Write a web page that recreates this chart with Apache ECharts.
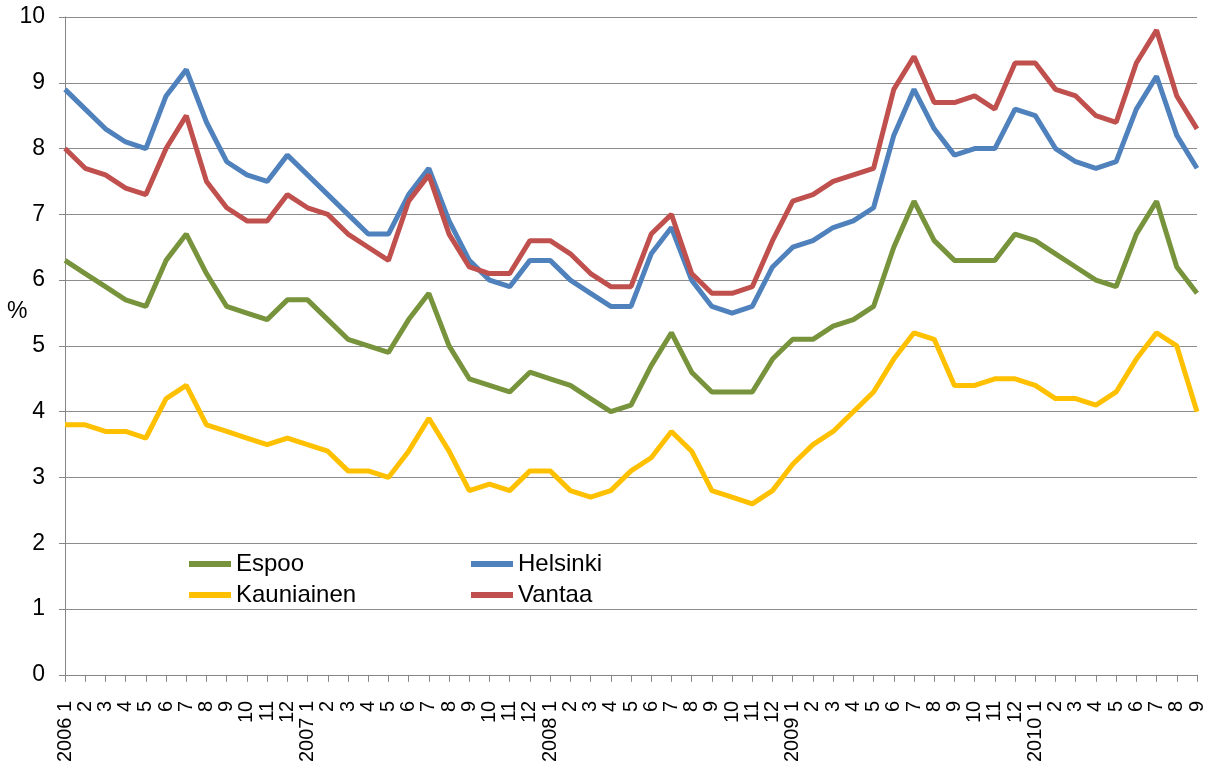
<!DOCTYPE html>
<html>
<head>
<meta charset="utf-8">
<title>Espoo Helsinki Kauniainen Vantaa</title>
<script src="https://cdn.jsdelivr.net/npm/echarts@6/dist/echarts.min.js"></script>
<style>
html,body{margin:0;padding:0;background:#fff;}
#lineContainer{width:1209px;height:765px;}
</style>
</head>
<body>
<div id="lineContainer"></div>
<script>
var monthLabels=[
	"2006 1","2","3","4","5","6","7","8","9","10","11","12",
	"2007 1","2","3","4","5","6","7","8","9","10","11","12",
	"2008 1","2","3","4","5","6","7","8","9","10","11","12",
	"2009 1","2","3","4","5","6","7","8","9","10","11","12",
	"2010 1","2","3","4","5","6","7","8","9"
];
var espooData=[
	6.3,6.1,5.9,5.7,5.6,6.3,6.7,6.1,5.6,5.5,5.4,5.7,
	5.7,5.4,5.1,5.0,4.9,5.4,5.8,5.0,4.5,4.4,4.3,4.6,
	4.5,4.4,4.2,4.0,4.1,4.7,5.2,4.6,4.3,4.3,4.3,4.8,
	5.1,5.1,5.3,5.4,5.6,6.5,7.2,6.6,6.3,6.3,6.3,6.7,
	6.6,6.4,6.2,6.0,5.9,6.7,7.2,6.2,5.8
];
var helsinkiData=[
	8.9,8.6,8.3,8.1,8.0,8.8,9.2,8.4,7.8,7.6,7.5,7.9,
	7.6,7.3,7.0,6.7,6.7,7.3,7.7,6.9,6.3,6.0,5.9,6.3,
	6.3,6.0,5.8,5.6,5.6,6.4,6.8,6.0,5.6,5.5,5.6,6.2,
	6.5,6.6,6.8,6.9,7.1,8.2,8.9,8.3,7.9,8.0,8.0,8.6,
	8.5,8.0,7.8,7.7,7.8,8.6,9.1,8.2,7.7
];
var kauniainenData=[
	3.8,3.8,3.7,3.7,3.6,4.2,4.4,3.8,3.7,3.6,3.5,3.6,
	3.5,3.4,3.1,3.1,3.0,3.4,3.9,3.4,2.8,2.9,2.8,3.1,
	3.1,2.8,2.7,2.8,3.1,3.3,3.7,3.4,2.8,2.7,2.6,2.8,
	3.2,3.5,3.7,4.0,4.3,4.8,5.2,5.1,4.4,4.4,4.5,4.5,
	4.4,4.2,4.2,4.1,4.3,4.8,5.2,5.0,4.0
];
var vantaaData=[
	8.0,7.7,7.6,7.4,7.3,8.0,8.5,7.5,7.1,6.9,6.9,7.3,
	7.1,7.0,6.7,6.5,6.3,7.2,7.6,6.7,6.2,6.1,6.1,6.6,
	6.6,6.4,6.1,5.9,5.9,6.7,7.0,6.1,5.8,5.8,5.9,6.6,
	7.2,7.3,7.5,7.6,7.7,8.9,9.4,8.7,8.7,8.8,8.6,9.3,
	9.3,8.9,8.8,8.5,8.4,9.3,9.8,8.8,8.3
];
var yTicks=[0,1,2,3,4,5,6,7,8,9,10];

function initLineChart(tagName){
	var dom=document.getElementById(tagName);
	var myChart=echarts.init(dom);
	var fontName="Liberation Sans, Arial, sans-serif";
	var legendText={color:"#000",fontSize:24,fontFamily:fontName};
	var option={
		animation:false,
		grid:{left:65,right:12,top:17,bottom:88},
		legend:[
			{
				data:["Espoo","Kauniainen"],
				orient:"vertical",
				left:184,top:547,
				itemWidth:42,itemHeight:6,itemGap:7,
				icon:"rect",
				textStyle:legendText
			},
			{
				data:["Helsinki","Vantaa"],
				orient:"vertical",
				left:466,top:547,
				itemWidth:42,itemHeight:6,itemGap:7,
				icon:"rect",
				textStyle:legendText
			}
		],
		graphic:[
			{type:"text",left:7,top:300,style:{text:"%",fontSize:23,fontFamily:fontName,fill:"#000"}}
		],
		xAxis:{
			type:"category",
			data:monthLabels,
			boundaryGap:false,
			axisLine:{lineStyle:{color:"#868686",width:1}},
			axisTick:{show:true,inside:false,length:7,interval:0,lineStyle:{color:"#868686"}},
			axisLabel:{interval:0,rotate:90,margin:26,color:"#000",fontSize:20,fontFamily:fontName},
			splitLine:{show:false}
		},
		yAxis:{
			type:"value",
			min:yTicks[0],
			max:yTicks[yTicks.length-1],
			interval:1,
			axisLine:{show:true,lineStyle:{color:"#868686",width:1}},
			axisTick:{show:true,inside:false,length:6,lineStyle:{color:"#868686"}},
			axisLabel:{margin:20,color:"#000",fontSize:23,fontFamily:fontName},
			splitLine:{show:true,lineStyle:{color:"#8c8c8c",width:1}}
		},
		series:[
			{name:"Espoo",type:"line",data:espooData,symbol:"none",color:"#77933C",lineStyle:{width:5,color:"#77933C"}},
			{name:"Helsinki",type:"line",data:helsinkiData,symbol:"none",color:"#4F81BD",lineStyle:{width:5,color:"#4F81BD"}},
			{name:"Kauniainen",type:"line",data:kauniainenData,symbol:"none",color:"#FFC000",lineStyle:{width:5,color:"#FFC000"}},
			{name:"Vantaa",type:"line",data:vantaaData,symbol:"none",color:"#C0504D",lineStyle:{width:5,color:"#C0504D"}}
		]
	};
	myChart.setOption(option,true);
}
initLineChart("lineContainer");
</script>
</body>
</html>
